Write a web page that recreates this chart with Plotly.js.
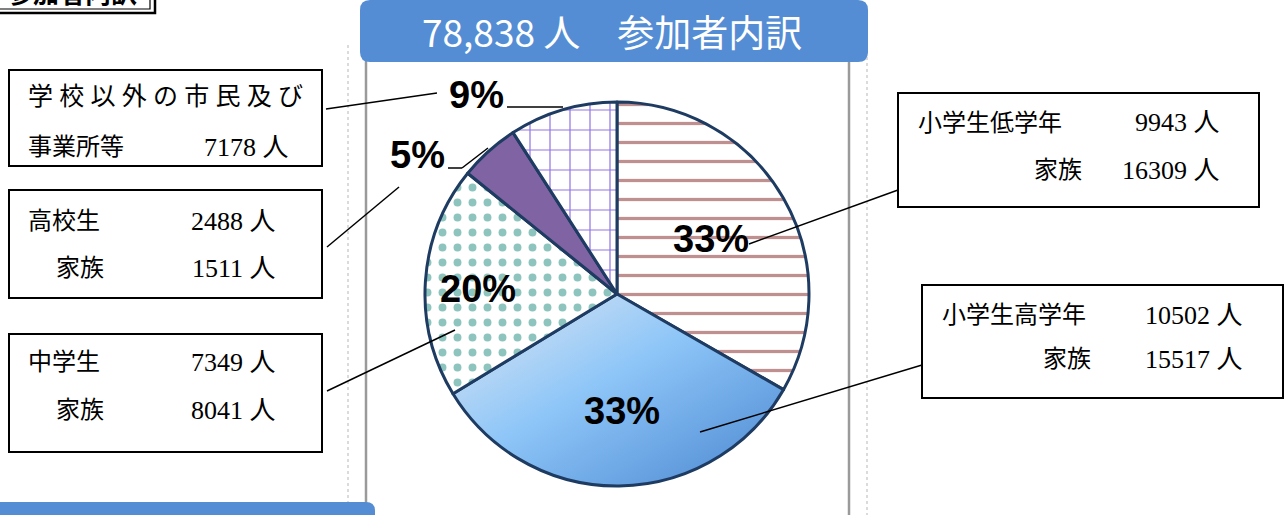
<!DOCTYPE html>
<html>
<head>
<meta charset="utf-8">
<script src="https://cdn.plot.ly/plotly-3.0.1.min.js"></script>
<style>html,body{margin:0;padding:0;background:#fff;}#chart{width:1285px;height:515px;}</style>
</head>
<body>
<div id="chart"></div>
<script>
// ---- data ----
const categories = ['小学生低学年', '小学生高学年', '中学生', '高校生', '学校以外の市民及び事業所等'];
const students   = [9943, 10502, 7349, 2488, 7178];
const families   = [16309, 15517, 8041, 1511, 0];
const titleText  = '参加者内訳';
const unit       = '人';

const totals = students.map((v, i) => v + families[i]);
const grandTotal = totals.reduce((a, b) => a + b, 0);
const pct = totals.map(v => Math.round(v / grandTotal * 100) + '%');

// ---- helpers (pixel -> paper) ----
const W = 1285, H = 515;
const X = x => x / W;
const Y = y => 1 - y / H;

function rrPath(x0, y0, x1, y1, r, corners) {
  const c = corners || [true, true, true, true];
  const P = (x, y) => X(x) + ',' + Y(y);
  let d = '';
  d += 'M' + P(x0 + (c[0] ? r : 0), y0);
  d += ' L' + P(x1 - (c[1] ? r : 0), y0);
  if (c[1]) d += ' Q' + P(x1, y0) + ' ' + P(x1, y0 + r);
  d += ' L' + P(x1, y1 - (c[2] ? r : 0));
  if (c[2]) d += ' Q' + P(x1, y1) + ' ' + P(x1 - r, y1);
  d += ' L' + P(x0 + (c[3] ? r : 0), y1);
  if (c[3]) d += ' Q' + P(x0, y1) + ' ' + P(x0, y1 - r);
  d += ' L' + P(x0, y0 + (c[0] ? r : 0));
  if (c[0]) d += ' Q' + P(x0, y0) + ' ' + P(x0 + r, y0);
  d += ' Z';
  return d;
}
const line = (x0, y0, x1, y1, color, width, dash) => ({
  type: 'line', xref: 'paper', yref: 'paper',
  x0: X(x0), y0: Y(y0), x1: X(x1), y1: Y(y1),
  line: {color: color || '#000', width: width || 1.5, dash: dash || 'solid'}
});
const rect = (x0, y0, x1, y1, lw) => ({
  type: 'rect', xref: 'paper', yref: 'paper',
  x0: X(x0), y0: Y(y0), x1: X(x1), y1: Y(y1),
  line: {color: '#000', width: lw || 2}, fillcolor: 'rgba(0,0,0,0)', layer: 'above'
});

const boxFont = {family: "'Liberation Serif', 'Noto Sans CJK JP', serif", size: 24, color: '#000'};
const numFont = {family: "'Liberation Serif', 'Noto Sans CJK JP', serif", size: 26, color: '#000'};
const txt = (s, x, y, anchor, font) => ({
  text: s, xref: 'paper', yref: 'paper', x: X(x), y: Y(y),
  xanchor: anchor || 'left', yanchor: 'middle', showarrow: false,
  font: font || boxFont
});
const num = v => v + ' ' + unit;
const pctFont = {family: "'Liberation Sans', Arial, sans-serif", size: 38, color: '#000', weight: 'bold'};

// ---- pie ----
const trace = {
  type: 'pie',
  labels: categories,
  values: totals,
  sort: false,
  direction: 'clockwise',
  rotation: 0,
  textinfo: 'none',
  hoverinfo: 'none',
  domain: {x: [X(617 - 192), X(617 + 192)], y: [Y(294 + 192), Y(294 - 192)]},
  marker: {
    colors: ['#ffffff', '#8fc2f2', '#ffffff', '#8063a3', '#ffffff'],
    line: {color: '#1e3b62', width: 3},
    pattern: {
      shape:    ['-', '', '.', '', '+'],
      fgcolor:  ['#c09090', '#8fc2f2', '#8ec4be', '#8063a3', '#9477e6'],
      bgcolor:  ['#ffffff', '#8fc2f2', '#ffffff', '#8063a3', '#ffffff'],
      size:     [19, 10, 15, 10, 20],
      solidity: [0.17, 0.3, 0.22, 0.3, 0.12],
      fillmode: 'replace'
    }
  }
};

const shapes = [
  line(348, 45, 348, 515, '#c4c4c4', 1.2, 'dot'),
  line(867, 45, 867, 515, '#c4c4c4', 1.2, 'dot'),
  line(366, 60, 366, 515, '#9a9a9a', 2.5),
  line(849, 60, 849, 515, '#9a9a9a', 2.5),
  {type: 'path', xref: 'paper', yref: 'paper', path: rrPath(360, 0, 868, 62, 10),
   fillcolor: '#548dd4', line: {width: 0}},
  {type: 'path', xref: 'paper', yref: 'paper', path: rrPath(-10, 502, 375, 530, 9, [false, true, false, false]),
   fillcolor: '#548dd4', line: {width: 0}},
  rect(-6, -6, 155, 13, 2.5),
  rect(-6, -6, 150, 9, 1.2),
  rect(9, 70, 322, 166),
  rect(9, 190, 322, 298),
  rect(9, 334, 322, 452),
  rect(898, 93, 1259, 207),
  rect(922, 285, 1283, 398),
  line(326, 109, 437, 93),
  line(507, 107, 563, 107),
  line(327, 247, 399, 187),
  line(448, 168, 462, 168),
  line(462, 168, 488, 148),
  line(327, 391, 455, 330),
  line(898, 190, 749, 244),
  line(922, 365, 700, 432)
];

const annotations = [
  {text: '78,838 ' + unit + '　' + titleText, xref: 'paper', yref: 'paper', x: X(612), y: Y(31),
   xanchor: 'center', yanchor: 'middle', showarrow: false,
   font: {family: "'Noto Sans CJK JP', sans-serif", size: 37, color: '#ffffff'}},
  {text: titleText, xref: 'paper', yref: 'paper', x: X(72), y: Y(-9),
   xanchor: 'center', yanchor: 'middle', showarrow: false,
   font: {family: "'Noto Sans CJK JP', sans-serif", size: 26, color: '#000', weight: 'bold'}},
  txt('学 校 以 外 の 市 民 及 び', 26, 97, 'left', {family: boxFont.family, size: 25, color: '#000'}),
  txt('事業所等', 26, 147),
  txt(num(students[4]), 291, 147, 'right', numFont),
  txt(categories[3], 26, 221),
  txt(num(students[3]), 278, 221, 'right', numFont),
  txt('家族', 54, 268),
  txt(num(families[3]), 278, 268, 'right', numFont),
  txt(categories[2], 26, 362),
  txt(num(students[2]), 278, 362, 'right', numFont),
  txt('家族', 54, 410),
  txt(num(families[2]), 278, 410, 'right', numFont),
  txt(categories[0], 916, 123),
  txt(num(students[0]), 1222, 123, 'right', numFont),
  txt('家族', 1084, 170, 'right'),
  txt(num(families[0]), 1222, 170, 'right', numFont),
  txt(categories[1], 940, 315),
  txt(num(students[1]), 1245, 315, 'right', numFont),
  txt('家族', 1093, 359, 'right'),
  txt(num(families[1]), 1245, 359, 'right', numFont),
  txt(pct[0], 711, 239, 'center', pctFont),
  txt(pct[1], 622, 411, 'center', pctFont),
  txt(pct[2], 478, 289, 'center', pctFont),
  txt(pct[3], 417, 155, 'center', pctFont),
  txt(pct[4], 476, 95, 'center', pctFont)
];

const layout = {
  width: W, height: H,
  margin: {l: 0, r: 0, t: 0, b: 0},
  paper_bgcolor: '#ffffff',
  plot_bgcolor: '#ffffff',
  showlegend: false,
  shapes: shapes,
  annotations: annotations
};

Plotly.newPlot('chart', [trace], layout, {staticPlot: true, displayModeBar: false}).then(gd => {
  const ns = 'http://www.w3.org/2000/svg';
  const svg = gd.querySelector('svg.main-svg');
  let defs = svg.querySelector('defs');
  if (!defs) { defs = document.createElementNS(ns, 'defs'); svg.insertBefore(defs, svg.firstChild); }
  const lg = document.createElementNS(ns, 'linearGradient');
  lg.setAttribute('id', 'blueGrad');
  lg.setAttribute('x1', '0'); lg.setAttribute('y1', '0');
  lg.setAttribute('x2', '1'); lg.setAttribute('y2', '1');
  [['0', '#e2e8f1'], ['0.45', '#8ec6f8'], ['1', '#4a86d0']].forEach(([o, c]) => {
    const s = document.createElementNS(ns, 'stop');
    s.setAttribute('offset', o); s.setAttribute('stop-color', c);
    lg.appendChild(s);
  });
  defs.appendChild(lg);
  const slices = gd.querySelectorAll('g.slice path.surface');
  if (slices[1]) slices[1].style.fill = 'url(#blueGrad)';
});
</script>
</body>
</html>
